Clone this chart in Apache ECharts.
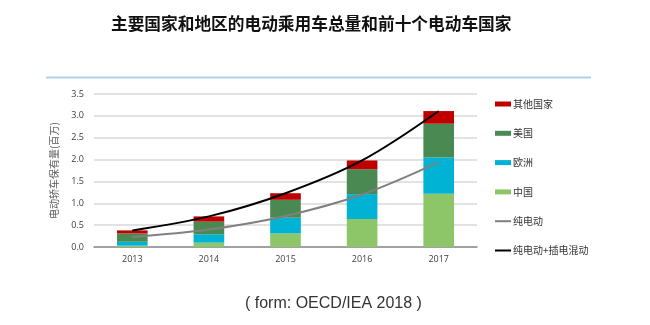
<!DOCTYPE html>
<html>
<head>
<meta charset="utf-8">
<script src="https://cdn.jsdelivr.net/npm/echarts@6/dist/echarts.min.js"></script>
<style>
  html, body { margin: 0; padding: 0; background: #fff; }
  #chart { width: 650px; height: 325px; }
</style>
</head>
<body>
<div id="chart"></div>
<script>
// Electric passenger car stock (millions), by region, 2013-2017
var years = ['2013', '2014', '2015', '2016', '2017'];
var china = [0.03, 0.10, 0.31, 0.64, 1.22];
var europe = [0.09, 0.19, 0.36, 0.57, 0.83];
var usa = [0.19, 0.29, 0.41, 0.57, 0.77];
var others = [0.07, 0.12, 0.15, 0.20, 0.29];
var bevOnly = [0.23, 0.40, 0.71, 1.20, 1.94];
var bevPlusPhev = [0.38, 0.70, 1.23, 1.98, 3.11];

var yTicks = ['0.0', '0.5', '1.0', '1.5', '2.0', '2.5', '3.0', '3.5'];

var axisFont = 'Open Sans, Liberation Sans, sans-serif';
var cjkFont = 'Noto Sans CJK SC, sans-serif';
// thin horizontal stroke inside a 16x5 box, used as the legend mark of the lines
var lineIcon = 'path://M0,0 M0,1.5 L16,1.5 L16,3.5 L0,3.5 Z M16,5';

var chart = echarts.init(document.getElementById('chart'));

function barSeries(name, data, color) {
  return {
    name: name,
    type: 'bar',
    stack: 'stock',
    barWidth: '40%',
    data: data,
    itemStyle: { color: color },
    emphasis: { disabled: true }
  };
}

function lineSeries(name, data, color) {
  return {
    name: name,
    type: 'line',
    smooth: 0.35,
    symbol: 'none',
    data: data,
    lineStyle: { color: color, width: 2 },
    itemStyle: { color: color },
    z: 5
  };
}

chart.setOption({
  animation: false,
  backgroundColor: '#fff',
  title: [{
    text: '主要国家和地区的电动乘用车总量和前十个电动车国家',
    left: 106,
    top: 10,
    textStyle: { fontFamily: cjkFont, fontSize: 16.7, fontWeight: 'bold', color: '#111' }
  }, {
    text: '( form: OECD/IEA 2018 )',
    left: 240,
    top: 291,
    textStyle: { fontFamily: 'Liberation Sans, Arial, sans-serif', fontSize: 16, fontWeight: 'normal', color: '#333' }
  }],
  graphic: [{
    type: 'line',
    shape: { x1: 46, y1: 77.5, x2: 591, y2: 77.5 },
    style: { stroke: '#aed0eb', lineWidth: 2 }
  }],
  grid: { left: 94, right: 173, top: 94, bottom: 78 },
  legend: {
    orient: 'vertical',
    left: 490,
    top: 93,
    itemWidth: 16,
    itemHeight: 5,
    itemGap: 17.3,
    textStyle: { fontFamily: cjkFont, fontSize: 10, color: '#333', lineHeight: 12, padding: [0, 0, 0, -3] },
    data: [
      { name: '其他国家', icon: 'rect' },
      { name: '美国', icon: 'rect' },
      { name: '欧洲', icon: 'rect' },
      { name: '中国', icon: 'rect' },
      { name: '纯电动', icon: lineIcon },
      { name: '纯电动+插电混动', icon: lineIcon }
    ]
  },
  xAxis: {
    type: 'category',
    data: years,
    boundaryGap: true,
    axisLine: { lineStyle: { color: '#8c8c8c', width: 1.5 } },
    axisTick: { show: false },
    axisLabel: { fontFamily: axisFont, fontSize: 9, color: '#404040', margin: 8 }
  },
  yAxis: {
    type: 'value',
    min: 0,
    max: 3.5,
    interval: 0.5,
    name: '电动轿车保有量(百万)',
    nameLocation: 'middle',
    nameGap: 35,
    nameTextStyle: { fontFamily: cjkFont, fontSize: 10, color: '#595959' },
    axisLine: { show: false },
    axisTick: { show: false },
    splitLine: { lineStyle: { color: '#d9d9d9', width: 1.5 } },
    axisLabel: {
      fontFamily: axisFont, fontSize: 9, color: '#404040', margin: 10,
      formatter: function (v) { return yTicks[Math.round(v / 0.5)]; }
    }
  },
  series: [
    barSeries('中国', china, '#8cc668'),
    barSeries('欧洲', europe, '#00b2d3'),
    barSeries('美国', usa, '#4a8a52'),
    barSeries('其他国家', others, '#c00000'),
    lineSeries('纯电动', bevOnly, '#808080'),
    lineSeries('纯电动+插电混动', bevPlusPhev, '#000000')
  ]
});
</script>
</body>
</html>
